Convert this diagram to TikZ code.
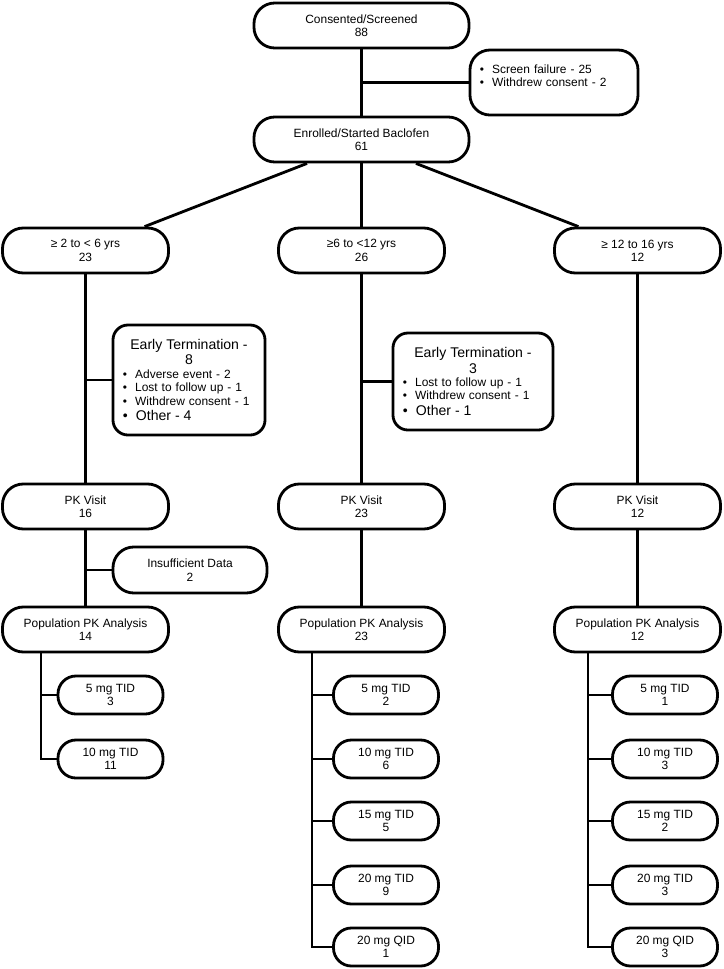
\documentclass[tikz,border=0pt]{standalone}
\usepackage{fontspec}
\setmainfont{Liberation Sans}
\usetikzlibrary{calc}

\begin{document}
\begin{tikzpicture}[x=0.025cm, y=-0.025cm, line width=2pt,
	pill/.style={draw, rounded corners=0.52cm, minimum width=4.15cm, minimum height=1.125cm, align=center, inner sep=0pt, font=\fontsize{8.5}{9.5}\selectfont},
	dose/.style={pill, rounded corners=0.45cm, minimum width=2.625cm, minimum height=0.95cm},
	listbox/.style={draw, rounded corners=0.375cm, align=left, inner xsep=0.25cm, inner ysep=0pt, font=\fontsize{8.5}{9.5}\selectfont}]
	\useasboundingbox (0,0) rectangle (724,969);
	\node[pill, minimum width=5.375cm] (consent) at (361.5,25.5) {Consented/Screened\\88};
	\node[listbox, rounded corners=0.5cm, minimum height=1.625cm, text width=3.7cm] (fail) at (554,82.5) {\textbullet\hspace{0.2cm}Screen failure - 25\\\textbullet\hspace{0.2cm}Withdrew consent - 2\\\mbox{}};
	\node[pill, minimum width=5.375cm] (enrol) at (361.5,139.5) {Enrolled/Started Baclofen\\61};
	\node[pill] (ageA) at (85.5,250.5) {≥ 2 to < 6 yrs\\23};
	\node[pill] (ageB) at (361.5,250.5) {≥6 to <12 yrs\\26};
	\node[pill] (ageC) at (637.5,250.5) {≥ 12 to 16 yrs\\12};
	\node[listbox, minimum height=2.75cm, text width=3.3cm] (termA) at (189,380) {{\centering\fontsize{10}{11}\selectfont Early Termination -\\8\par}
		\textbullet\hspace{0.2cm}Adverse event - 2\\
		\textbullet\hspace{0.2cm}Lost to follow up - 1\\
		\textbullet\hspace{0.2cm}Withdrew consent - 1\par
		{\fontsize{10}{11}\selectfont\textbullet\hspace{0.2cm}Other - 4\par}};
	\node[listbox, minimum height=2.425cm, text width=3.5cm] (termB) at (473,381.5) {{\centering\fontsize{10}{11}\selectfont Early Termination -\\3\par}
		\textbullet\hspace{0.2cm}Lost to follow up - 1\\
		\textbullet\hspace{0.2cm}Withdrew consent - 1\par
		{\fontsize{10}{11}\selectfont\textbullet\hspace{0.2cm}Other - 1\par}};
	\node[pill] (pkA) at (85.5,506.5) {PK Visit\\16};
	\node[pill] (pkB) at (361.5,506.5) {PK Visit\\23};
	\node[pill] (pkC) at (637.5,506.5) {PK Visit\\12};
	\node[pill, minimum width=3.85cm, minimum height=1.15cm] (insuff) at (190,570) {Insufficient Data\\2};
	\node[pill] (popA) at (85.5,629.5) {Population PK Analysis\\14};
	\node[pill] (popB) at (361.5,629.5) {Population PK Analysis\\23};
	\node[pill] (popC) at (637.5,629.5) {Population PK Analysis\\12};
	\node[dose] (doseA1) at (110.5,695) {5 mg TID\\3};
	\node[dose] (doseA2) at (110.5,759) {10 mg TID\\11};
	\node[dose] (doseB1) at (386,695) {5 mg TID\\2};
	\node[dose] (doseB2) at (386,759) {10 mg TID\\6};
	\node[dose] (doseB3) at (386,821) {15 mg TID\\5};
	\node[dose] (doseB4) at (386,885) {20 mg TID\\9};
	\node[dose] (doseB5) at (386,947) {20 mg QID\\1};
	\node[dose] (doseC1) at (665,695) {5 mg TID\\1};
	\node[dose] (doseC2) at (665,759) {10 mg TID\\3};
	\node[dose] (doseC3) at (665,821) {15 mg TID\\2};
	\node[dose] (doseC4) at (665,885) {20 mg TID\\3};
	\node[dose] (doseC5) at (665,947) {20 mg QID\\3};
	\draw (consent) -- (enrol);
	\draw (fail.west) -- (fail.west -| consent.south);
	\draw ($(enrol.south)!0.5!(enrol.south west)$) -- ($(ageA.north)!0.7!(ageA.north east)$);
	\draw (enrol) -- (ageB);
	\draw ($(enrol.south)!0.5!(enrol.south east)$) -- ($(ageC.north)!0.7!(ageC.north west)$);
	\draw (ageA) -- (pkA);
	\draw (ageB) -- (pkB);
	\draw (ageC) -- (pkC);
	\draw (termA.west) -- (termA.west -| ageA.south);
	\draw (termB.west) -- (termB.west -| ageB.south);
	\draw (pkA) -- (popA);
	\draw (pkB) -- (popB);
	\draw (pkC) -- (popC);
	\draw (insuff.west) -- (insuff.west -| pkA.south);
	\coordinate (trunkA) at ($(popA.south west)+(40,0)$);
	\coordinate (trunkB) at ($(popB.south west)+(35,0)$);
	\coordinate (trunkC) at ($(popC.south west)+(35,0)$);
	\draw (trunkA) |- (doseA2.west);
	\draw (doseA1.west) -- (doseA1.west -| trunkA);
	\draw (trunkB) |- (doseB5.west);
	\draw (doseB1.west) -- (doseB1.west -| trunkB);
	\draw (doseB2.west) -- (doseB2.west -| trunkB);
	\draw (doseB3.west) -- (doseB3.west -| trunkB);
	\draw (doseB4.west) -- (doseB4.west -| trunkB);
	\draw (trunkC) |- (doseC5.west);
	\draw (doseC1.west) -- (doseC1.west -| trunkC);
	\draw (doseC2.west) -- (doseC2.west -| trunkC);
	\draw (doseC3.west) -- (doseC3.west -| trunkC);
	\draw (doseC4.west) -- (doseC4.west -| trunkC);
\end{tikzpicture}
\end{document}
